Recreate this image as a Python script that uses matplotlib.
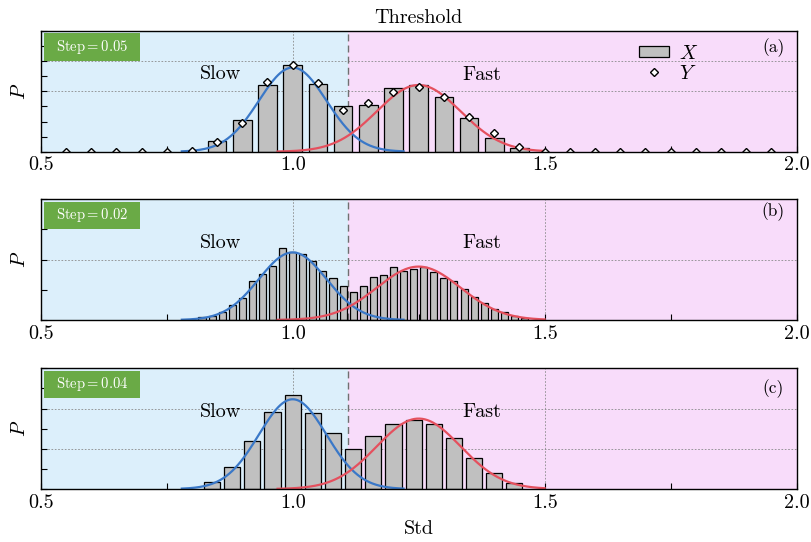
import numpy as np
import matplotlib
matplotlib.use("Agg")
import matplotlib.pyplot as plt
from matplotlib.patches import Rectangle
from matplotlib.lines import Line2D
from matplotlib.path import Path
from matplotlib.ticker import MultipleLocator, FormatStrFormatter
import matplotlib.transforms as mtransforms

plt.rcParams['font.family'] = 'serif'
plt.rcParams['font.serif'] = ['cmr10']
plt.rcParams['mathtext.fontset'] = 'cm'
plt.rcParams['axes.formatter.use_mathtext'] = True

# histogram data (bin centre, probability) for the three step sizes
x_a = [0.85, 0.90, 0.95, 1.00, 1.05, 1.10, 1.15, 1.20, 1.25, 1.30, 1.35, 1.40, 1.45]
p_a = [0.036, 0.105, 0.221, 0.286, 0.224, 0.151, 0.156, 0.211, 0.221, 0.182, 0.113, 0.044, 0.012]

x_b = [0.82, 0.84, 0.86, 0.88, 0.90, 0.92, 0.94, 0.96, 0.98, 1.00, 1.02, 1.04, 1.06,
       1.08, 1.10, 1.12, 1.14, 1.16, 1.18, 1.20, 1.22, 1.24, 1.26, 1.28, 1.30, 1.32,
       1.34, 1.36, 1.38, 1.40, 1.42, 1.44, 1.46]
p_b = [0.005, 0.006, 0.013, 0.025, 0.036, 0.065, 0.077, 0.090, 0.119, 0.112, 0.109, 0.098, 0.082,
       0.069, 0.056, 0.046, 0.056, 0.071, 0.074, 0.087, 0.082, 0.085, 0.087, 0.080, 0.070, 0.065,
       0.051, 0.038, 0.028, 0.019, 0.013, 0.007, 0.003]

x_c = [0.84, 0.88, 0.92, 0.96, 1.00, 1.04, 1.08, 1.12, 1.16, 1.20, 1.24, 1.28, 1.32, 1.36, 1.40, 1.44]
p_c = [0.017, 0.055, 0.119, 0.192, 0.234, 0.190, 0.138, 0.099, 0.132, 0.162, 0.172, 0.162, 0.126,
       0.078, 0.039, 0.016]

# reference values Y (step 0.05)
y_x = [0.55, 0.60, 0.65, 0.70, 0.75, 0.80, 0.85, 0.90, 0.95, 1.00, 1.05, 1.10, 1.15, 1.20, 1.25,
       1.30, 1.35, 1.40, 1.45, 1.50, 1.55, 1.60, 1.65, 1.70, 1.75, 1.80, 1.85, 1.90, 1.95]
y_p = [0, 0, 0, 0, 0, 0.003, 0.031, 0.096, 0.230, 0.286, 0.228, 0.138, 0.161, 0.197, 0.213,
       0.180, 0.116, 0.062, 0.017, 0, 0, 0, 0, 0, 0, 0, 0, 0, 0]

# gaussian fits: (mean, sigma, peak) for slow / fast groups per panel
slow_fit = [(1.00, 0.067, 0.279), (1.00, 0.067, 0.112), (1.00, 0.067, 0.223)]
fast_fit = [(1.25, 0.083, 0.221), (1.25, 0.083, 0.0885), (1.25, 0.083, 0.175)]

steps = ['0.05', '0.02', '0.04']
tags = ['(a)', '(b)', '(c)']
tag_y = [0.86, 0.90, 0.835]
widths = [0.037, 0.014, 0.032]
ymax = [0.4, 0.2, 0.3]
# dotted guide lines per panel
grid_x = [[1.0], [1.0, 1.5], [1.0, 1.5]]
grid_y = [[0.2, 0.3], [0.1], [0.1, 0.2]]
threshold = 1.11

c_slow_bg = '#dceffb'
c_fast_bg = '#f8dcfa'
c_blue = '#3a78c8'
c_red = '#e5505e'
c_green = '#6aaa46'

fig = plt.figure(figsize=(8.11, 5.42), dpi=100)
bottoms = [0.7201, 0.4096, 0.0978]
axes = [fig.add_axes([0.0502, b, 0.9321, 0.2227]) for b in bottoms]

data = [(x_a, p_a), (x_b, p_b), (x_c, p_c)]

for i, ax in enumerate(axes):
    xs, ps = data[i]
    ax.axvspan(0.5, threshold, color=c_slow_bg, zorder=0, lw=0)
    ax.axvspan(threshold, 2.0, color=c_fast_bg, zorder=0, lw=0)
    for gx in grid_x[i]:
        ax.axvline(gx, color='#8a8a8a', ls=(0, (2, 2)), lw=0.6, zorder=0.5)
    for gy in grid_y[i]:
        ax.axhline(gy, color='#8a8a8a', ls=(0, (2, 2)), lw=0.6, zorder=0.5)
    ax.axvline(threshold, color='#707070', ls=(0, (5, 3)), lw=1.0, zorder=1)

    ax.bar(xs, ps, width=widths[i], color='#c0c0c0', edgecolor='black', lw=0.9, zorder=2)

    m, s, pk = slow_fit[i]
    xx = np.linspace(0.78, 1.22, 300)
    ax.plot(xx, pk * np.exp(-(xx - m) ** 2 / (2 * s ** 2)), color=c_blue, lw=1.6, zorder=3)
    m, s, pk = fast_fit[i]
    xx = np.linspace(0.97, 1.50, 300)
    ax.plot(xx, pk * np.exp(-(xx - m) ** 2 / (2 * s ** 2)), color=c_red, lw=1.6, zorder=3)

    ax.set_xlim(0.5, 2.0)
    ax.set_ylim(0, ymax[i])
    ax.xaxis.set_major_locator(MultipleLocator(0.5))
    ax.xaxis.set_minor_locator(MultipleLocator(0.25))
    ax.xaxis.set_major_formatter(FormatStrFormatter('%.1f'))
    ax.yaxis.set_major_locator(MultipleLocator(0.1))
    ax.yaxis.set_minor_locator(MultipleLocator(0.05))
    ax.tick_params(axis='both', which='both', direction='in', length=4, width=0.8,
                   top=False, right=False, labelsize=14.5)
    ax.tick_params(axis='y', labelleft=False)
    for sp in ax.spines.values():
        sp.set_linewidth(1.0)
        sp.set_zorder(5)
    ax.set_ylabel('$P$', fontsize=14.5, labelpad=5)

    trans = mtransforms.blended_transform_factory(ax.transData, ax.transAxes)
    ax.text(0.857, 0.64, 'Slow', transform=trans, ha='center', va='center', fontsize=14.5)
    ax.text(1.376, 0.635, 'Fast', transform=trans, ha='center', va='center', fontsize=14.5)

    ax.add_patch(Rectangle((0.005, 0.755), 0.127, 0.225, transform=ax.transAxes,
                           facecolor=c_green, edgecolor='none', zorder=4))
    ax.text(0.0685, 0.868, r'$\mathrm{Step} = ' + steps[i] + '$', transform=ax.transAxes,
            ha='center', va='center', color='white', fontsize=10.5, zorder=5)
    ax.text(0.969, tag_y[i], tags[i], transform=ax.transAxes, ha='center', va='center',
            fontsize=12.5)

ymarks, = axes[0].plot(y_x, y_p, ls='none', marker='D', ms=4.2, mfc='white', mec='black',
                       mew=1.0, zorder=4)
# clip markers sitting on the x axis to the plot area
ymarks.set_clip_path(Path([(0, 0), (1, 0), (1, 1), (0, 1), (0, 0)], closed=True),
                     axes[0].transAxes)
axes[0].set_title('Threshold', fontsize=14.5, pad=6)
axes[2].set_xlabel('Std', fontsize=14.5, labelpad=6)

handles = [Rectangle((0, 0), 1, 1, facecolor='#c0c0c0', edgecolor='black', lw=0.9),
           Line2D([], [], ls='none', marker='D', ms=4.2, mfc='white', mec='black', mew=1.0)]
axes[0].legend(handles, ['$X$', '$Y$'], loc='upper left', bbox_to_anchor=(0.77, 1.02),
               frameon=False, fontsize=14.5, handlelength=1.5, handleheight=0.5,
               handletextpad=0.5, labelspacing=0.1, borderpad=0.3)

fig.savefig('out.png', dpi=100)
